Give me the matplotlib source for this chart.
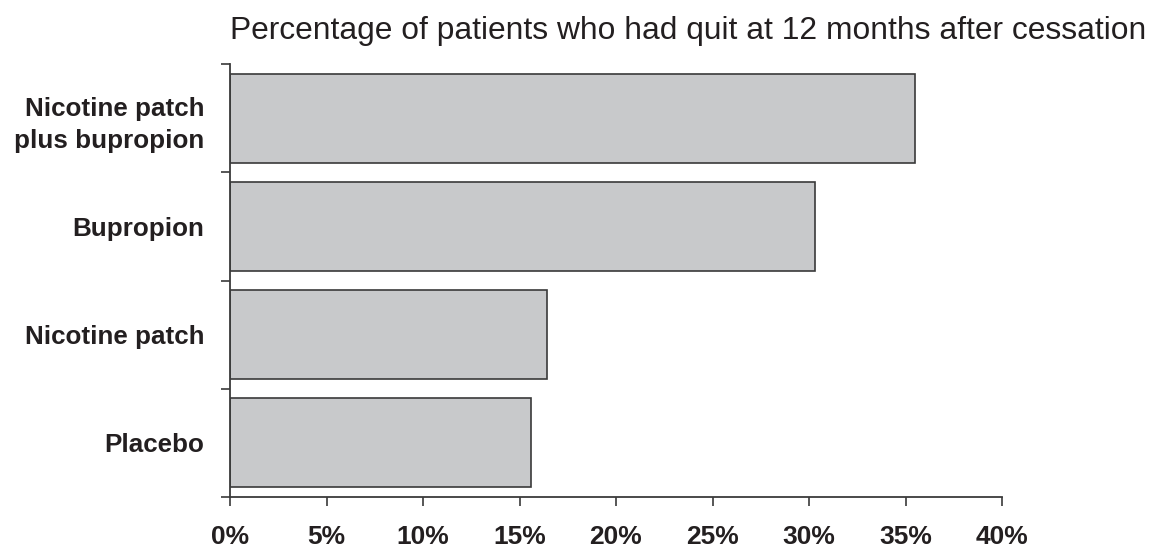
import matplotlib
matplotlib.use('Agg')
import matplotlib.pyplot as plt
from matplotlib.ticker import FixedLocator, PercentFormatter

# Data (bottom to top)
groups = ['Placebo', 'Nicotine patch', 'Bupropion', 'Nicotine patch\nplus bupropion']
quit_pct = [15.6, 16.4, 30.3, 35.5]
x_ticks = [0, 5, 10, 15, 20, 25, 30, 35, 40]

plt.rcParams['font.family'] = ['Liberation Sans', 'DejaVu Sans']
txt = '#231f20'

fig = plt.figure(figsize=(11.52, 5.5), dpi=100)
ax = fig.add_axes([230 / 1152, 1 - 497 / 550, (1002 - 230) / 1152, (497 - 64) / 550])

pos = list(range(len(groups)))
ax.barh(pos, quit_pct, height=0.82, color='#c8c9cb', edgecolor='#3a3a3a', linewidth=1.2)

ax.set_xlim(0, 40)
ax.set_ylim(-0.5, 3.5)
ax.set_xticks(x_ticks)
ax.xaxis.set_major_formatter(PercentFormatter(decimals=0))
for lab in ax.get_xticklabels():
    lab.set_fontweight('bold')
ax.tick_params(axis='x', direction='out', length=6.5, width=1.2, color='#3a3a3a',
               labelsize=19, labelcolor=txt, pad=13.5)

# category boundary ticks, labels in between
ax.yaxis.set_major_locator(FixedLocator([-0.5, 0.5, 1.5, 2.5, 3.5]))
ax.yaxis.set_major_formatter(plt.NullFormatter())
ax.yaxis.set_minor_locator(FixedLocator(pos))
ax.set_yticklabels(groups, minor=True, fontweight='bold', fontsize=18.7,
                   color=txt, linespacing=1.42)
ax.tick_params(axis='y', which='major', direction='out', length=6.5, width=1.2, color='#3a3a3a')
ax.tick_params(axis='y', which='minor', length=0, pad=18.5)

for s in ['top', 'right']:
    ax.spines[s].set_visible(False)
for s in ['left', 'bottom']:
    ax.spines[s].set_color('#3a3a3a')
    ax.spines[s].set_linewidth(1.3)

fig.text(230 / 1152, 1 - 39 / 550, 'Percentage of patients who had quit at 12 months after cessation',
         fontsize=22.9, color=txt, ha='left', va='baseline')

fig.savefig('out.png', dpi=100)
